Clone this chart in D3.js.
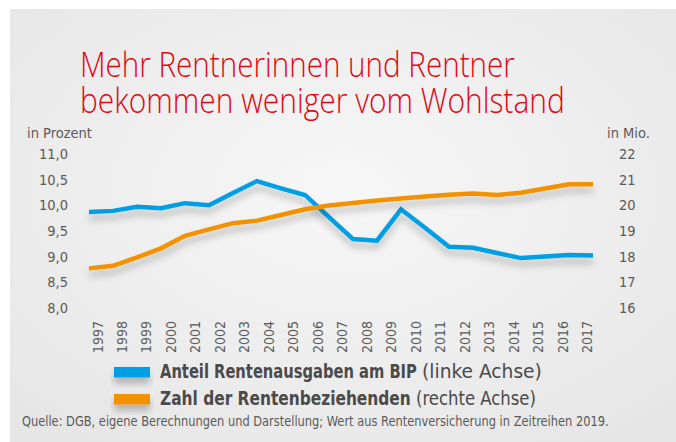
<!DOCTYPE html>
<html>
<head>
<meta charset="utf-8">
<script src="https://cdn.jsdelivr.net/npm/d3@7"></script>
<style>
  body { margin: 0; background: #fff; }
  svg { display: block; }
  text { font-family: "Liberation Sans Narrow", "DejaVu Sans Condensed", "Roboto Condensed", sans-serif; }
  .title { font-family: "Open Sans", "Lato", sans-serif; }
</style>
</head>
<body>
<div id="chart"></div>
<script>
// data
var years = [1997, 1998, 1999, 2000, 2001, 2002, 2003, 2004, 2005, 2006, 2007,
             2008, 2009, 2010, 2011, 2012, 2013, 2014, 2015, 2016, 2017, 2018];
var tickYears = ["1997", "1998", "1999", "2000", "2001", "2002", "2003", "2004", "2005", "2006", "2007",
                 "2008", "2009", "2010", "2011", "2012", "2013", "2014", "2015", "2016", "2017"];
var anteilBIP = [9.95, 9.97, 10.05, 10.02, 10.12, 10.08, 10.32, 10.55, 10.41, 10.28, 9.85,
                 9.42, 9.39, 10.0, 9.64, 9.27, 9.25, 9.15, 9.05, 9.08, 9.11, 9.10];
var rentenbezieher = [17.70, 17.80, 18.13, 18.48, 18.97, 19.22, 19.46, 19.56, 19.78, 20.0, 20.15,
                      20.25, 20.34, 20.42, 20.5, 20.57, 20.62, 20.56, 20.65, 20.81, 20.98, 20.98];
var leftTicks = [8.0, 8.5, 9.0, 9.5, 10.0, 10.5, 11.0];
var rightTicks = [16, 17, 18, 19, 20, 21, 22];

var W = 676, H = 442;
var blue = "#009fe3", orange = "#f39200", grey = "#5a5a5a", red = "#e30613";

var svg = d3.select("#chart").append("svg")
	.attr("width", W)
	.attr("height", H);

var defs = svg.append("defs");
var grad = defs.append("radialGradient")
	.attr("id", "bg")
	.attr("cx", "50%").attr("cy", "42%").attr("r", "70%");
grad.append("stop").attr("offset", "0%").attr("stop-color", "#f7f7f7");
grad.append("stop").attr("offset", "100%").attr("stop-color", "#e6e6e6");

var shadow = defs.append("filter")
	.attr("id", "shadow")
	.attr("x", "-10%").attr("y", "-50%").attr("width", "120%").attr("height", "250%");
shadow.append("feDropShadow")
	.attr("dx", 0).attr("dy", 6)
	.attr("stdDeviation", 3.5)
	.attr("flood-color", "#000")
	.attr("flood-opacity", 0.24);

var gshadow = defs.append("filter")
	.attr("id", "gshadow")
	.attr("x", "-5%").attr("y", "-300%").attr("width", "110%").attr("height", "700%");
gshadow.append("feDropShadow")
	.attr("dx", 0).attr("dy", 2)
	.attr("stdDeviation", 1.5)
	.attr("flood-color", "#000")
	.attr("flood-opacity", 0.06);

// squeeze a text horizontally so that it is w wide
function fitWidth(sel, x0, y0, w)
{
	sel.each(function(){
		var n = this.getComputedTextLength();
		d3.select(this).attr("transform", "translate(" + x0 + "," + y0 + ") scale(" + (w / n) + ",1)");
	});
}

// panel
svg.append("rect")
	.attr("x", 10).attr("y", 9)
	.attr("width", W - 10).attr("height", H - 9)
	.attr("fill", "url(#bg)");

// title
var title = svg.append("g").attr("class", "title").attr("fill", red)
	.attr("font-size", 35).attr("font-weight", 300);
title.append("text").attr("class", "title")
	.text("Mehr Rentnerinnen und Rentner")
	.call(fitWidth, 80, 77, 435);
title.append("text").attr("class", "title")
	.text("bekommen weniger vom Wohlstand")
	.call(fitWidth, 80, 113, 485);

// scales
var x = d3.scalePoint().domain(years).range([89, 593]);
var xLab = d3.scalePoint().domain(tickYears).range([97.5, 587]);
var yL = d3.scaleLinear().domain([8, 11]).range([312, 158]);
var yR = d3.scaleLinear().domain([16, 22]).range([312, 158]);

// grid
svg.append("g").selectAll("line")
	.data(leftTicks)
	.join("line")
	.attr("x1", 78).attr("x2", 603)
	.attr("y1", function(d){ return yL(d); })
	.attr("y2", function(d){ return yL(d); })
	.attr("stroke", "#fff")
	.attr("stroke-width", 2)
	.attr("filter", "url(#gshadow)");

// axis labels
var fmt = function(d){ return d3.format(".1f")(d).replace(".", ","); };
svg.append("g").selectAll("text")
	.data(leftTicks)
	.join("text")
	.attr("x", 68)
	.attr("y", function(d){ return yL(d) + 1; })
	.attr("text-anchor", "end")
	.attr("font-size", 14.5)
	.attr("fill", grey)
	.text(fmt);

svg.append("g").selectAll("text")
	.data(rightTicks)
	.join("text")
	.attr("x", 619)
	.attr("y", function(d){ return yR(d) + 1; })
	.attr("font-size", 14.5)
	.attr("fill", grey)
	.text(function(d){ return d; });

svg.append("text").attr("x", 27).attr("y", 138)
	.attr("font-size", 14.5).attr("fill", grey).text("in Prozent");
svg.append("text").attr("x", 607).attr("y", 138)
	.attr("font-size", 14.5).attr("fill", grey).text("in Mio.");

// year labels
svg.append("g").selectAll("text")
	.data(tickYears)
	.join("text")
	.attr("transform", function(d){ return "translate(" + (xLab(d) + 5) + ",321) rotate(-90)"; })
	.attr("text-anchor", "end")
	.attr("font-size", 14)
	.attr("fill", grey)
	.text(function(d){ return d; });

// lines
var lineL = d3.line()
	.x(function(d, i){ return x(years[i]); })
	.y(function(d){ return yL(d); });
var lineR = d3.line()
	.x(function(d, i){ return x(years[i]); })
	.y(function(d){ return yR(d); });

svg.append("path")
	.datum(anteilBIP)
	.attr("d", lineL)
	.attr("fill", "none")
	.attr("stroke", blue)
	.attr("stroke-width", 4.5)
	.attr("stroke-linejoin", "miter")
	.attr("filter", "url(#shadow)");

svg.append("path")
	.datum(rentenbezieher)
	.attr("d", lineR)
	.attr("fill", "none")
	.attr("stroke", orange)
	.attr("stroke-width", 4.5)
	.attr("stroke-linejoin", "miter")
	.attr("filter", "url(#shadow)");

// legend
var legend = [
	{ c: blue, b: "Anteil Rentenausgaben am BIP", r: "(linke Achse)", y: 378, bw: 257, rx: 422, rw: 120 },
	{ c: orange, b: "Zahl der Rentenbeziehenden", r: "(rechte Achse)", y: 405, bw: 251, rx: 416, rw: 120 }
];
legend.forEach(function(d){
	svg.append("rect")
		.attr("x", 114).attr("width", 36)
		.attr("y", d.y - 11)
		.attr("height", 10.5)
		.attr("fill", d.c)
		.attr("filter", "url(#shadow)");
	svg.append("text")
		.attr("font-size", 19)
		.attr("font-weight", "bold")
		.attr("fill", "#4a4a4a")
		.text(d.b)
		.call(fitWidth, 160, d.y, d.bw);
	svg.append("text")
		.attr("font-size", 19)
		.attr("fill", "#4a4a4a")
		.text(d.r)
		.call(fitWidth, d.rx, d.y, d.rw);
});

// source
svg.append("text")
	.attr("font-size", 14)
	.attr("fill", grey)
	.text("Quelle: DGB, eigene Berechnungen und Darstellung; Wert aus Rentenversicherung in Zeitreihen 2019.")
	.call(fitWidth, 22, 426, 587);
</script>
</body>
</html>
